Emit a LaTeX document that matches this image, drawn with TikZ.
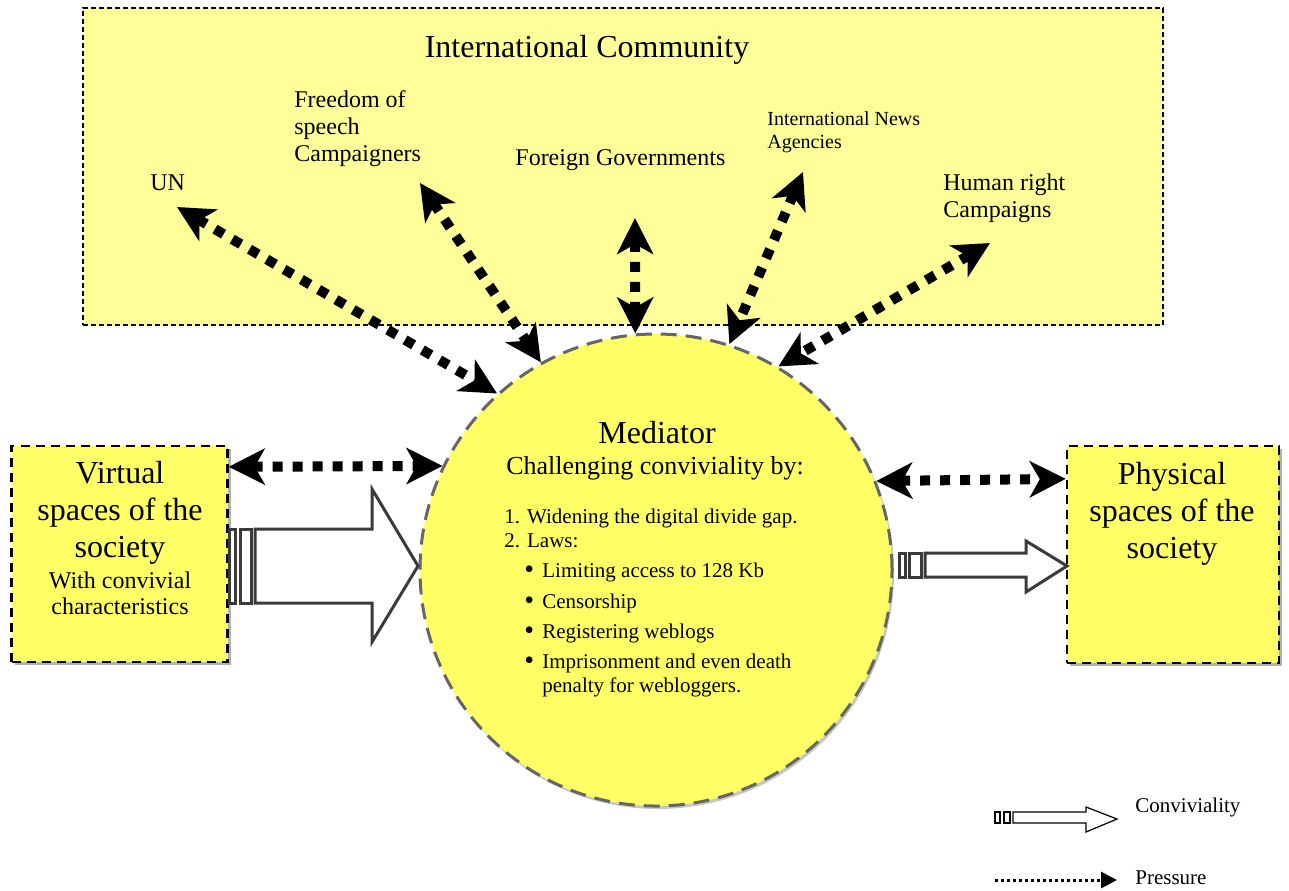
\documentclass[tikz,border=0pt]{standalone}
\usepackage{fontspec}
\setmainfont{Liberation Serif}
\usetikzlibrary{arrows.meta,shadows}

\definecolor{commyellow}{HTML}{FFFF99}
\definecolor{boxyellow}{HTML}{FFFF66}
\definecolor{rimgray}{HTML}{666666}
\definecolor{arrowgray}{HTML}{3A3A3A}

\tikzset{
  pressure/.style={line width=5pt, dash pattern=on 5pt off 5pt,
    {Stealth[length=18pt,width=18pt,inset=5pt]}-{Stealth[length=18pt,width=18pt,inset=5pt]}},
  spacebox/.style={draw, line width=1.2pt, dash pattern=on 4.5pt off 3pt, fill=boxyellow,
    inner sep=0pt, minimum width=108pt, minimum height=108pt,
    drop shadow={shadow xshift=1.5pt, shadow yshift=-1.5pt, fill=black!30, opacity=1}},
  convarrow/.style={draw=arrowgray, line width=1.5pt, fill=white, line join=miter},
  legarrow/.style={draw, line width=0.6pt, fill=white, line join=miter},
  bigtext/.style={font=\fontsize{16}{18.5}\selectfont, align=center, inner sep=0pt, anchor=base},
  actor/.style={font=\fontsize{12}{13.5}\selectfont, align=left, inner sep=0pt, anchor=base west}
}
\newcommand\lawdot{\makebox[9pt][l]{\raisebox{-0.6pt}{\fontsize{14}{12}\selectfont\textbullet}}}

\begin{document}
\begin{tikzpicture}[x=0.5pt,y=-0.5pt]
  \useasboundingbox (0,0) rectangle (1289,890);

  % the international community (base anchors sit on the last line)
  \node[draw, line width=0.6pt, dash pattern=on 2.5pt off 1.5pt, fill=commyellow,
    minimum width=540pt, minimum height=158.5pt, inner sep=0pt] (intl) at (623,166.5) {};
  \node[font=\fontsize{16}{18}\selectfont, anchor=base, inner sep=0pt] (intltitle) at (587,57) {International Community};
  \node[actor] (un) at (150,190) {UN};
  \node[actor] (fos) at (294,161) {Freedom of\\speech\\Campaigners};
  \node[actor] (fgov) at (515,165) {Foreign Governments};
  \node[actor, font=\fontsize{10}{11.5}\selectfont] (news) at (767,148) {International News\\Agencies};
  \node[actor] (hr) at (943,217) {Human right\\Campaigns};

  % the mediator
  \node[circle, draw=rimgray, line width=1.5pt, dash pattern=on 8pt off 4.5pt, fill=boxyellow,
    minimum size=236pt, inner sep=0pt,
    drop shadow={shadow xshift=1pt, shadow yshift=-1.5pt, fill=black!22, opacity=1}] (med) at (656,570) {};
  \node[font=\fontsize{16}{18}\selectfont, anchor=base, inner sep=0pt] (medtitle) at (657,443) {Mediator};
  \node[font=\fontsize{13}{15}\selectfont, anchor=base, inner sep=0pt] (medsub) at (655,474) {Challenging conviviality by:};
  \node[font=\fontsize{10.5}{12}\selectfont, align=left, anchor=base west, inner sep=0pt] (laws) at (504,692) {%
    1. Widening the digital divide gap.\\
    2. Laws:\\[3pt]
    \hspace*{10pt}\lawdot Limiting access to 128 Kb\\[3.5pt]
    \hspace*{10pt}\lawdot Censorship\\[3pt]
    \hspace*{10pt}\lawdot Registering weblogs\\[3pt]
    \hspace*{10pt}\lawdot Imprisonment and even death\\
    \hspace*{19pt}penalty for webloggers.};

  % the two spaces
  \node[spacebox] (virt) at (119.5,554) {};
  \node[bigtext] (virtlbl) at (120,557) {Virtual\\spaces of the\\society};
  \node[font=\fontsize{12}{13}\selectfont, align=center, anchor=base, inner sep=0pt] (virtsub) at (120,614) {With convivial\\characteristics};
  \node[spacebox, minimum width=106pt, minimum height=108.5pt] (phys) at (1173,554.5) {};
  \node[bigtext] (physlbl) at (1172,558) {Physical\\spaces of the\\society};

  % pressure arrows
  \coordinate (un-tip) at (177,207);
  \coordinate (fos-tip) at (420,183);
  \coordinate (fgov-tip) at (635,218);
  \coordinate (news-tip) at (803,172);
  \coordinate (hr-tip) at (990,243);
  \draw[pressure] (un-tip) -- (med.132);
  \draw[pressure] (fos-tip) -- (med.119);
  \draw[pressure] (fgov-tip) -- (med.95);
  \draw[pressure] (news-tip) -- (med.72);
  \draw[pressure] (hr-tip) -- (med.59);
  \draw[pressure] ([yshift=-11pt]virt.north east) -- (med.154);
  \draw[pressure] (med.22) -- ([yshift=-17pt]phys.north west);

  % conviviality arrows
  \draw[convarrow] (229,529) rectangle (235,603);
  \draw[convarrow] (240,529) rectangle (251,603);
  \draw[convarrow] (255,529) -- (372,529) -- (372,489) -- (418,566) -- (372,642) -- (372,603) -- (255,603) -- cycle;
  \draw[convarrow] (899,553) rectangle (905,577);
  \draw[convarrow] (909,553) rectangle (921,577);
  \draw[convarrow] (925,553) -- (1026,553) -- (1026,541) -- (1067,566) -- (1026,592) -- (1026,577) -- (925,577) -- cycle;

  % legend
  \draw[legarrow] (995,812) rectangle (1000,823);
  \draw[legarrow] (1004,812) rectangle (1010,823);
  \draw[legarrow] (1013,812) -- (1086,812) -- (1086,807) -- (1117,819) -- (1086,832) -- (1086,823) -- (1013,823) -- cycle;
  \node[font=\fontsize{10.5}{12}\selectfont, anchor=base west, inner sep=0pt] (convlbl) at (1135,812) {Conviviality};
  \coordinate (pres-a) at (995,880);
  \coordinate (pres-b) at (1117,880);
  \draw[line width=1.5pt, dash pattern=on 1.5pt off 1.5pt, -{Triangle[length=8pt,width=8pt]}] (pres-a) -- (pres-b);
  \node[font=\fontsize{10.5}{12}\selectfont, anchor=base west, inner sep=0pt] (preslbl) at (1135,884) {Pressure};
\end{tikzpicture}
\end{document}
